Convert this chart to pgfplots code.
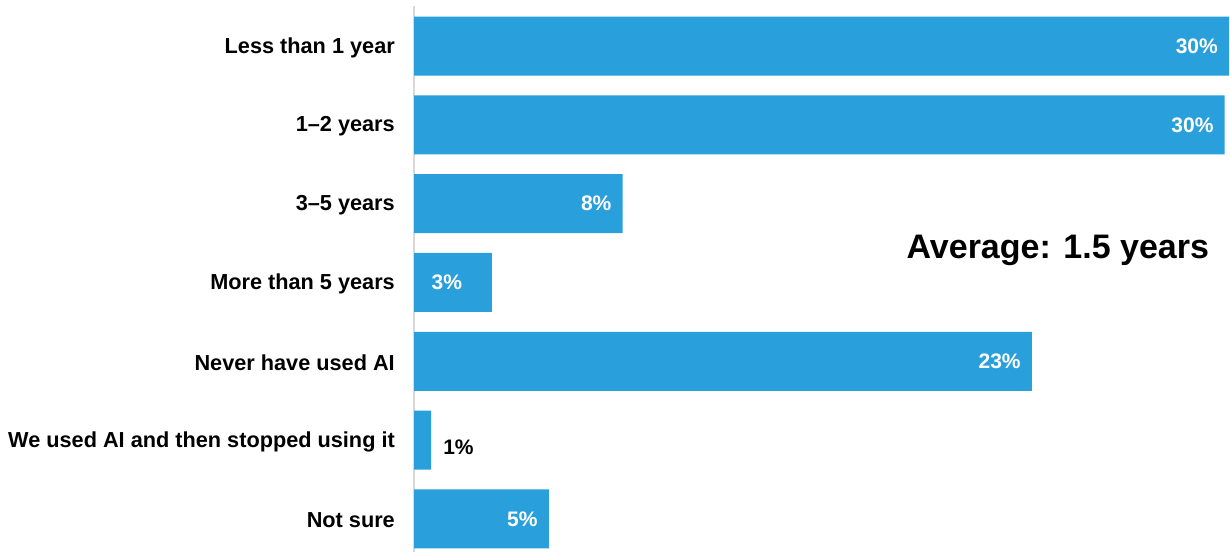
\documentclass[border=0pt]{standalone}
\usepackage{pgfplots}
\pgfplotsset{compat=1.18}
\usepackage{fontspec}
\setmainfont{Liberation Sans}
\definecolor{barblue}{RGB}{41,160,219}
\definecolor{axgray}{RGB}{217,217,217}
\begin{document}
\begin{tikzpicture}
\useasboundingbox (0,0) rectangle (1230bp,552bp);
\begin{axis}[
  at={(414bp,0bp)}, anchor=south west,
  width=815bp, height=546bp, scale only axis,
  xmin=0, xmax=30.05,
  ymin=-0.508, ymax=6.42, y dir=reverse,
  axis x line=none, axis y line*=left,
  y axis line style={draw=axgray, line width=1.5bp},
  ytick={0,1,2,3,4,5,6},
  yticklabels={Less than 1 year, 1–2 years, 3–5 years, More than 5 years, Never have used AI, We used AI and then stopped using it, Not sure},
  ytick style={draw=none},
  yticklabel style={font=\fontsize{21.7bp}{26bp}\selectfont\bfseries, anchor=east, inner sep=0pt, xshift=-19bp, yshift=-1.5bp},
  clip=false,
]
\addplot[xbar, bar width=59bp, bar shift=0pt, fill=barblue, draw=none]
  coordinates {(30.05,0) (29.89,1) (7.69,2) (2.87,3) (22.78,4) (0.63,5) (4.97,6)};
\addplot[draw=none, mark=none, nodes near coords, point meta=explicit symbolic,
  every node near coord/.append style={anchor=east, text=white, inner sep=0pt, xshift=-11bp,
    font=\fontsize{21bp}{25bp}\selectfont\bfseries}]
  table[x=x, y=y, meta=lab] {
x y lab
30.05 0 30\%
29.89 1 30\%
7.69 2 8\%
22.78 4 23\%
4.97 6 5\%
};
\addplot[draw=none, mark=none, nodes near coords, point meta=explicit symbolic,
  every node near coord/.append style={anchor=center, text=white, inner sep=0pt,
    font=\fontsize{21bp}{25bp}\selectfont\bfseries}]
  table[x=x, y=y, meta=lab] {
x y lab
1.21 3 3\%
};
\addplot[draw=none, mark=none, nodes near coords, point meta=explicit symbolic,
  every node near coord/.append style={anchor=west, text=black, inner sep=0pt, xshift=12bp, yshift=-7bp,
    font=\fontsize{21bp}{25bp}\selectfont\bfseries}]
  table[x=x, y=y, meta=lab] {
x y lab
0.63 5 1\%
};
\node[font=\fontsize{34bp}{40bp}\selectfont\bfseries, anchor=base, inner sep=0pt] at (axis cs:23.74,2.69) {Average: 1.5 years};
\end{axis}
\end{tikzpicture}
\end{document}
